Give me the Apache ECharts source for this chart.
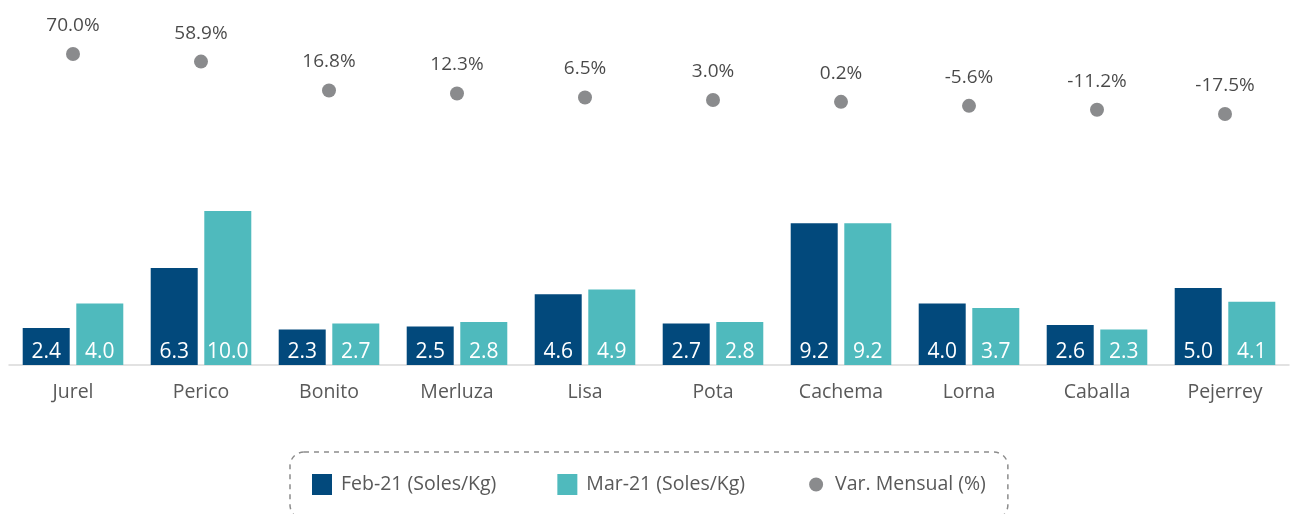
<!DOCTYPE html>
<html lang="es">
  <head>
    <meta charset="UTF-8" />
    <title>Precios pescado</title>
    <style>
      html, body { margin: 0; padding: 0; background: #ffffff; }
      #app { width: 1316px; height: 514px; }
    </style>
  </head>
  <body>
    <div id="app"></div>
    <script src="https://cdn.jsdelivr.net/npm/echarts@6/dist/echarts.min.js"></script>
    <script>
      var especies = ['Jurel', 'Perico', 'Bonito', 'Merluza', 'Lisa', 'Pota', 'Cachema', 'Lorna', 'Caballa', 'Pejerrey']
      var feb21 = [2.4, 6.3, 2.3, 2.5, 4.6, 2.7, 9.2, 4.0, 2.6, 5.0]
      var mar21 = [4.0, 10.0, 2.7, 2.8, 4.9, 2.8, 9.2, 3.7, 2.3, 4.1]
      var varMensual = [70.0, 58.9, 16.8, 12.3, 6.5, 3.0, 0.2, -5.6, -11.2, -17.5]

      var fontFam = '"Open Sans", "Noto Sans", sans-serif'
      var chart = echarts.init(document.getElementById('app'))

      var barLabel = {
        show: true,
        position: 'insideBottom',
        distance: 2,
        color: '#ffffff',
        fontSize: 21,
        fontFamily: fontFam,
        formatter: function (p) {
          return p.value.toFixed(1)
        }
      }

      // punto pequeño dentro de una caja de 20x20
      var dotIcon = 'path://M0,0L0.001,0L0,0.001Z M20,20L19.999,20L20,19.999Z M10,3A7,7 0 1,1 9.999,3Z'

      chart.setOption({
        animation: false,
        legend: {
          left: 290,
          top: 452,
          padding: [22, 22, 24, 22],
          itemWidth: 20,
          itemHeight: 21,
          itemGap: 61,
          borderColor: '#8c8c8c',
          borderWidth: 1.5,
          borderType: [5, 5],
          borderRadius: 14,
          textStyle: { color: '#595959', fontSize: 19.5, fontFamily: fontFam, padding: [0, 0, 0, 4] },
          data: [
            { name: 'Feb-21 (Soles/Kg)', icon: 'rect' },
            { name: 'Mar-21 (Soles/Kg)', icon: 'rect' },
            { name: 'Var. Mensual (%)', icon: dotIcon }
          ]
        },
        grid: [
          { left: 9, right: 27, top: 211, bottom: 149 },
          { left: 9, right: 27, top: 54, height: 60 }
        ],
        xAxis: [
          {
            type: 'category',
            gridIndex: 0,
            data: especies,
            axisTick: { show: false },
            axisLine: { lineStyle: { color: '#d9d9d9', width: 1.5 } },
            axisLabel: { color: '#595959', fontSize: 19.5, fontFamily: fontFam, margin: 17 }
          },
          {
            type: 'category',
            gridIndex: 1,
            data: especies,
            show: false
          }
        ],
        yAxis: [
          { type: 'value', gridIndex: 0, min: 0, max: 10, show: false },
          { type: 'value', gridIndex: 1, min: -17.5, max: 70, show: false }
        ],
        series: [
          {
            name: 'Feb-21 (Soles/Kg)',
            type: 'bar',
            data: feb21,
            barWidth: 47,
            barGap: '14%',
            itemStyle: { color: '#02497c' },
            label: barLabel
          },
          {
            name: 'Mar-21 (Soles/Kg)',
            type: 'bar',
            data: mar21,
            barWidth: 47,
            itemStyle: { color: '#4fbabd' },
            label: barLabel
          },
          {
            name: 'Var. Mensual (%)',
            type: 'scatter',
            xAxisIndex: 1,
            yAxisIndex: 1,
            data: varMensual,
            symbolSize: 14,
            itemStyle: { color: '#6d6e71' },
            label: {
              show: true,
              position: 'top',
              distance: 12,
              color: '#1a1a1a',
              fontSize: 19,
              fontFamily: fontFam,
              formatter: function (p) {
                return p.value.toFixed(1) + '%'
              }
            }
          }
        ]
      })
    </script>
  </body>
</html>
